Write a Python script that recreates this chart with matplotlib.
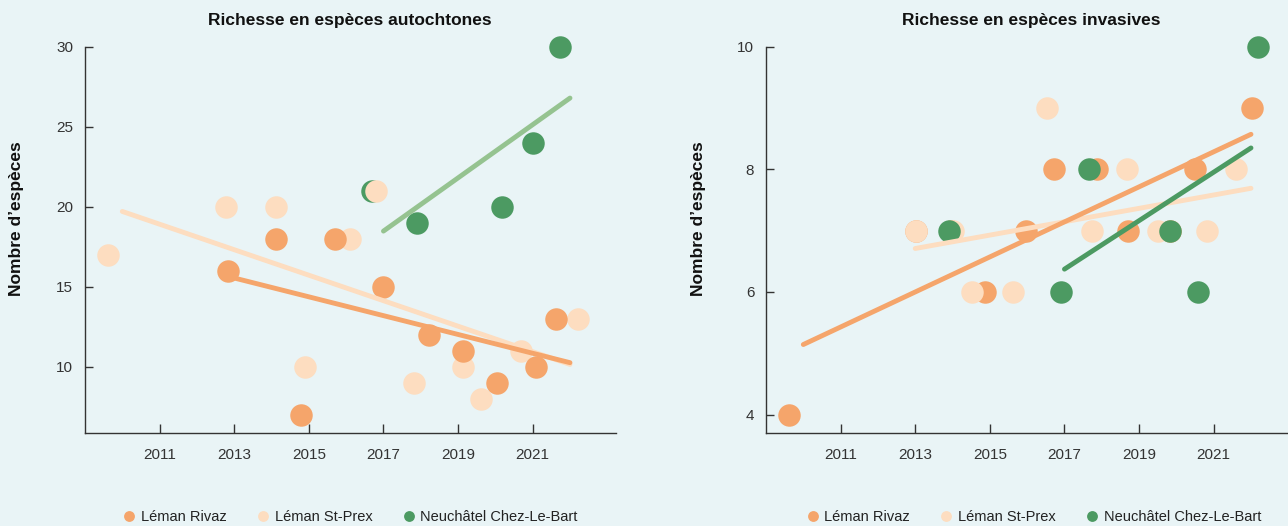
import numpy as np
import matplotlib
matplotlib.use("Agg")
import matplotlib.pyplot as plt
from matplotlib.lines import Line2D

plt.rcParams['font.family'] = ['Liberation Sans', 'DejaVu Sans']

# ---------------- data ----------------
sites = ["Léman Rivaz", "Léman St-Prex", "Neuchâtel Chez-Le-Bart"]
x_ticks = [2011, 2013, 2015, 2017, 2019, 2021]

# Richesse en espèces autochtones
auto_rivaz_year = [2013, 2014, 2015, 2016, 2017, 2018, 2019, 2020, 2021, 2022]
auto_rivaz_date = [2012.83, 2014.12, 2014.78, 2015.69, 2016.98, 2018.22, 2019.14, 2020.04, 2021.09, 2021.63]
auto_rivaz_val = [16, 18, 7, 18, 15, 12, 11, 9, 10, 13]

auto_stprex_year = [2010, 2013, 2014, 2015, 2016, 2017, 2018, 2019, 2020, 2021, 2022]
auto_stprex_date = [2009.61, 2012.77, 2014.13, 2014.91, 2016.11, 2016.81, 2017.81, 2019.14, 2019.62, 2020.69, 2022.22]
auto_stprex_val = [17, 20, 20, 10, 18, 21, 9, 10, 8, 11, 13]

auto_clb_year = [2017, 2018, 2020, 2021, 2022]
auto_clb_date = [2016.69, 2017.91, 2020.18, 2021.00, 2021.74]
auto_clb_val = [21, 19, 20, 24, 30]

# Richesse en espèces invasives
inv_rivaz_year = [2010, 2013, 2014, 2015, 2016, 2017, 2018, 2019, 2020, 2021, 2022]
inv_rivaz_date = [2009.62, 2013.02, 2013.95, 2014.88, 2015.97, 2016.72, 2017.88, 2018.69, 2019.84, 2020.51, 2022.03]
inv_rivaz_val = [4, 7, 7, 6, 7, 8, 8, 7, 7, 8, 9]

inv_stprex_year = [2013, 2014, 2015, 2016, 2017, 2018, 2019, 2020, 2021, 2022]
inv_stprex_date = [2013.02, 2014.02, 2014.51, 2015.62, 2016.54, 2017.74, 2018.68, 2019.52, 2020.81, 2021.61]
inv_stprex_val = [7, 7, 6, 6, 9, 7, 8, 7, 7, 8]

inv_clb_year = [2014, 2017, 2018, 2020, 2021, 2022]
inv_clb_date = [2013.90, 2016.91, 2017.66, 2019.84, 2020.57, 2022.19]
inv_clb_val = [7, 6, 8, 7, 6, 10]

clb_trend_from = 2017

# ---------------- style ----------------
BG = "#E9F4F6"
C_RIVAZ = "#F5A56B"
C_STPREX = "#FDDDC0"
C_CLB = "#4C9A62"
C_CLB_LINE_LEFT = "#95C390"
AX_COL = "#333333"

W, H = 1288, 526
fig = plt.figure(figsize=(W / 100, H / 100), dpi=100, facecolor=BG)

ax_bottom = 1 - 433 / H
ax_height = (433 - 46.7) / H
ax_width = 530.5 / W
axL = fig.add_axes([85 / W, ax_bottom, ax_width, ax_height])
axR = fig.add_axes([766 / W, ax_bottom, ax_width, ax_height])


def style_axes(ax, ylim, yticks):
    ax.set_facecolor(BG)
    for s in ["top", "right"]:
        ax.spines[s].set_visible(False)
    for s in ["left", "bottom"]:
        ax.spines[s].set_color(AX_COL)
        ax.spines[s].set_linewidth(1.0)
    ax.set_xlim(2009.0, 2023.22)
    ax.set_ylim(*ylim)
    ax.set_xticks(x_ticks)
    ax.set_xticklabels([str(t) for t in x_ticks])
    ax.set_yticks(yticks)
    ax.tick_params(axis="both", direction="in", colors=AX_COL, labelcolor="#333333",
                   labelsize=11, width=1.0)
    ax.tick_params(axis="x", length=6.2, pad=10.5)
    ax.tick_params(axis="y", length=5.8, pad=8.4)


def trend(ax, years, vals, color, start=None):
    years = np.asarray(years, float)
    vals = np.asarray(vals, float)
    if start is not None:
        m = years >= start
        years, vals = years[m], vals[m]
    k, b = np.polyfit(years, vals, 1)
    xs = np.array([years.min(), years.max()])
    ax.plot(xs, k * xs + b, color=color, lw=3.5, solid_capstyle="round", zorder=6)


S = 262
# left chart
style_axes(axL, (5.86, 30), [10, 15, 20, 25, 30])
axL.scatter(auto_clb_date, auto_clb_val, s=S, color=C_CLB, lw=0, zorder=3, clip_on=False)
axL.scatter(auto_stprex_date, auto_stprex_val, s=S, color=C_STPREX, lw=0, zorder=4, clip_on=False)
axL.scatter(auto_rivaz_date, auto_rivaz_val, s=S, color=C_RIVAZ, lw=0, zorder=5, clip_on=False)
trend(axL, auto_stprex_year, auto_stprex_val, C_STPREX)
trend(axL, auto_rivaz_year, auto_rivaz_val, C_RIVAZ)
trend(axL, auto_clb_year, auto_clb_val, C_CLB_LINE_LEFT, clb_trend_from)

# right chart
style_axes(axR, (3.70, 10), [4, 6, 8, 10])
axR.scatter(inv_rivaz_date, inv_rivaz_val, s=S, color=C_RIVAZ, lw=0, zorder=3, clip_on=False)
axR.scatter(inv_stprex_date, inv_stprex_val, s=S, color=C_STPREX, lw=0, zorder=4, clip_on=False)
axR.scatter(inv_clb_date, inv_clb_val, s=S, color=C_CLB, lw=0, zorder=5, clip_on=False)
trend(axR, inv_stprex_year, inv_stprex_val, C_STPREX)
trend(axR, inv_rivaz_year, inv_rivaz_val, C_RIVAZ)
trend(axR, inv_clb_year, inv_clb_val, C_CLB, clb_trend_from)

# titles
fig.text((85 + 615.5) / 2 / W, 1 - 20 / H, "Richesse en espèces autochtones",
         ha="center", va="center", fontsize=12.5, fontweight="bold", color="#111111")
fig.text((766 + 1296.5) / 2 / W, 1 - 20 / H, "Richesse en espèces invasives",
         ha="center", va="center", fontsize=12.5, fontweight="bold", color="#111111")

# y labels
for xc in (16.5, 699):
    fig.text(xc / W, 1 - 218.5 / H, "Nombre d’espèces", rotation=90,
             ha="center", va="center", fontsize=12.5, fontweight="bold", color="#111111")

# legends
handles = [Line2D([], [], marker="o", ls="", color=c, markersize=7.8, markeredgewidth=0)
           for c in (C_RIVAZ, C_STPREX, C_CLB)]
for xc in (350.5, 1034):
    fig.legend(handles, sites, loc="center", bbox_to_anchor=(xc / W, 1 - 517 / H),
               ncol=3, frameon=False, handlelength=0.8, fontsize=10.5,
               handletextpad=0.4, columnspacing=2.1, borderpad=0, borderaxespad=0,
               labelcolor="#222222")

fig.savefig("out.png", dpi=100, facecolor=BG)
